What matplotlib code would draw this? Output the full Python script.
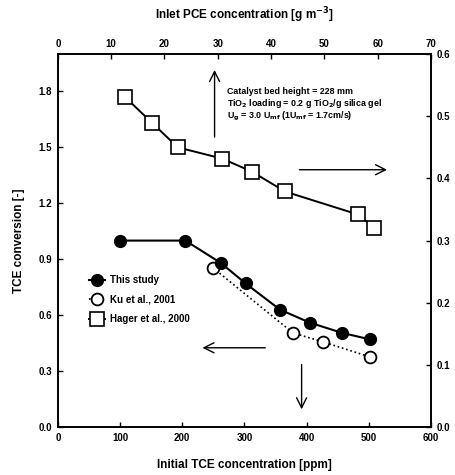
import matplotlib
matplotlib.use("Agg")
import matplotlib.pyplot as plt
from matplotlib.lines import Line2D

plt.rcParams['font.family'] = ['Liberation Sans', 'DejaVu Sans']
plt.rcParams['font.weight'] = 'bold'

# this study / Ku et al. : initial TCE [ppm] vs TCE conversion
study_x = [100, 205, 262, 302, 357, 405, 457, 502]
study_y = [1.00, 1.00, 0.88, 0.77, 0.63, 0.56, 0.505, 0.47]
ku_x = [249, 378, 426, 502]
ku_y = [0.855, 0.505, 0.457, 0.376]
# Hager et al. : inlet PCE [g m-3] vs conversion (right axis)
hager_x = [12.6, 17.6, 22.5, 30.8, 36.4, 42.6, 56.3, 59.3]
hager_y = [0.531, 0.490, 0.450, 0.432, 0.411, 0.379, 0.342, 0.321]

left_ticks = [0.0, 0.3, 0.6, 0.9, 1.2, 1.5, 1.8]
right_ticks = [0.0, 0.1, 0.2, 0.3, 0.4, 0.5, 0.6]
bottom_ticks = [0, 100, 200, 300, 400, 500, 600]
top_ticks = [0, 10, 20, 30, 40, 50, 60, 70]

fig = plt.figure(figsize=(4.56, 4.75), dpi=100)
ax = fig.add_axes([0.127, 0.101, 0.818, 0.785])
ax2 = fig.add_axes(ax.get_position(), frame_on=False)

ax.plot(study_x, study_y, '-o', color='black', mfc='black', ms=8.5, lw=1.5, zorder=3)
ax.plot(ku_x, ku_y, ':o', color='black', mfc='white', ms=8.5, lw=1.2, mew=1.3, zorder=2)
ax2.plot(hager_x, hager_y, '-s', color='black', mfc='white', ms=9.5, lw=1.4, mew=1.2)

ax.set_xlim(0, 600)
ax.set_ylim(0, 2.0)
ax.set_xticks(bottom_ticks)
ax.set_yticks(left_ticks)
ax.set_yticklabels(['%.1f' % t for t in left_ticks])
ax2.set_xlim(0, 70)
ax2.set_ylim(0, 0.6)
ax2.set_xticks(top_ticks)
ax2.set_yticks(right_ticks)
ax2.set_yticklabels(['%.1f' % t for t in right_ticks])
ax2.xaxis.tick_top()
ax2.yaxis.tick_right()
ax2.xaxis.set_label_position('top')
ax2.yaxis.set_label_position('right')

for a in (ax, ax2):
    a.tick_params(direction='in', length=3.5, width=1, labelsize=7, pad=4)
for s in ax.spines.values():
    s.set_linewidth(1.4)

ax.set_xlabel('Initial TCE concentration [ppm]', fontsize=8.5, fontweight='bold', labelpad=12)
ax.set_ylabel('TCE conversion [-]', fontsize=8.5, fontweight='bold', labelpad=10)
ax2.set_xlabel('Inlet PCE concentration [g m$^{\\mathbf{-3}}$]', fontsize=8.5, fontweight='bold', labelpad=14)

# arrows
arr = dict(arrowstyle='->', color='black', lw=1.0, mutation_scale=18)
ax.annotate('', xy=(252, 1.93), xytext=(252, 1.54), arrowprops=arr)
ax.annotate('', xy=(534, 1.38), xytext=(384, 1.38), arrowprops=arr)
ax.annotate('', xy=(228, 0.425), xytext=(338, 0.425), arrowprops=arr)
ax.annotate('', xy=(392, 0.08), xytext=(392, 0.35), arrowprops=arr)

ax.text(272, 1.785, 'Catalyst bed height = 228 mm', fontsize=6.4, fontweight='bold')
ax.text(272, 1.72, 'TiO$_\\mathbf{2}$ loading = 0.2 g TiO$_\\mathbf{2}$/g silica gel', fontsize=6.4, fontweight='bold')
ax.text(272, 1.655, 'U$_\\mathbf{g}$ = 3.0 U$_\\mathbf{mf}$ (1U$_\\mathbf{mf}$ = 1.7cm/s)', fontsize=6.4, fontweight='bold')

handles = [
    Line2D([], [], ls='-', marker='o', color='black', mfc='black', ms=8.5, lw=1.5),
    Line2D([], [], ls=':', marker='o', color='black', mfc='white', ms=8.5, lw=1.2, mew=1.3),
    Line2D([], [], ls='-', marker='s', color='black', mfc='white', ms=9.5, lw=1.4, mew=1.2),
]
ax2.legend(handles, ['This study', 'Ku et al., 2001', 'Hager et al., 2000'],
           loc='upper left', bbox_to_anchor=(0.06, 0.43), frameon=False,
           fontsize=7, handlelength=1.6, handletextpad=0.6, labelspacing=0.95)

fig.savefig('out.png', dpi=100)
